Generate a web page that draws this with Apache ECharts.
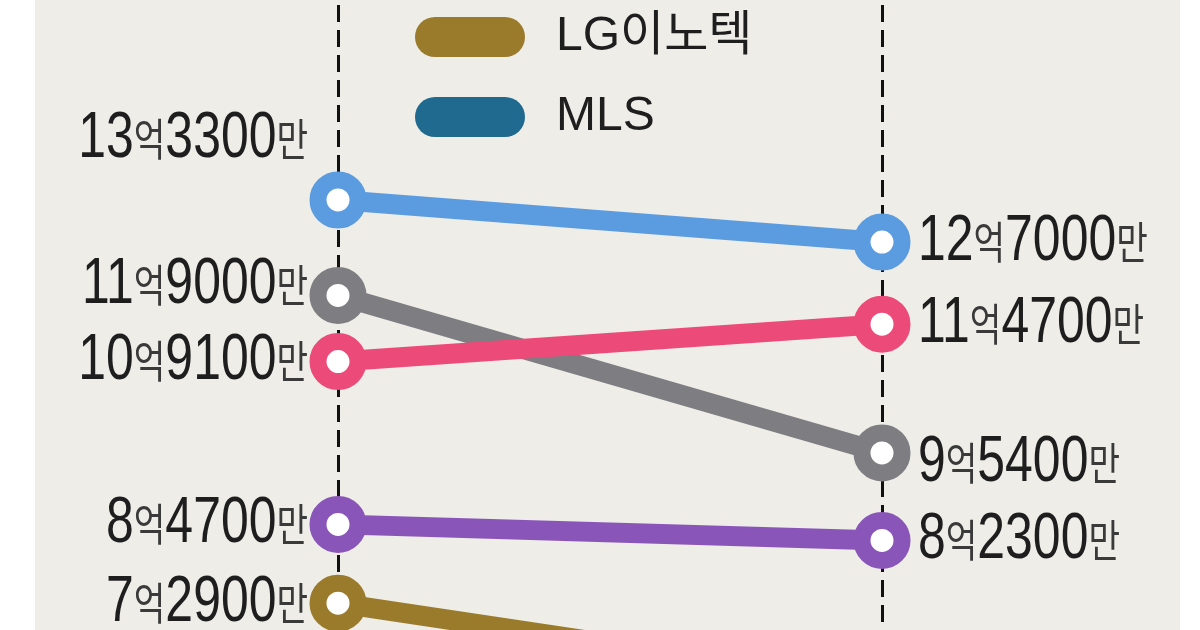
<!DOCTYPE html>
<html>
<head>
<meta charset="utf-8">
<script src="https://cdn.jsdelivr.net/npm/echarts@6/dist/echarts.min.js"></script>
<style>
    html, body { margin: 0; padding: 0; background: #fff; }
    #panel { position: absolute; left: 35px; top: 0; width: 1145px; height: 630px; background: #eeede8; }
    #chart { position: absolute; left: 0; top: 0; width: 1200px; height: 630px; }
</style>
</head>
<body>
<div id="panel"></div>
<div id="chart"></div>
<script>
// 두 시점 (왼쪽/오른쪽 점선)
const periods = ['이전', '이후'];

// 단위: 억원
const blueValues = [13.33, 12.70];
const grayValues = [11.90, 9.54];
const pinkValues = [10.91, 11.47];
const purpleValues = [8.47, 8.23];
const lgInnotekValues = [7.29, 6.07];
const mlsValues = [];

const legendNames = ['LG이노텍', 'MLS'];

const NUM_FONT = "'Liberation Sans', Arial, sans-serif";
const KR_FONT = "'Noto Sans CJK KR', sans-serif";

// 선 정의 (그리는 순서 = 겹침 순서)
const lines = [
    { name: legendNames[0], values: lgInnotekValues, color: '#9a7b2c' },
    { name: legendNames[1], values: mlsValues, color: '#1f6a8e' },
    { name: 'D', values: purpleValues, color: '#8a55b8' },
    { name: 'B', values: grayValues, color: '#7e7e82' },
    { name: 'C', values: pinkValues, color: '#ec4a78' },
    { name: 'A', values: blueValues, color: '#5b9be0' }
];

// 라벨 세로 위치 보정 [왼쪽, 오른쪽]
const labelShift = { A: [-61, 0], B: [-10, 10] };

// 13.33 -> 13억3300만
function fmtWon(v) {
    const man = Math.round(v * 10000);
    const eok = Math.floor(man / 10000);
    const rest = man - eok * 10000;
    return `{n|${eok}}{u|억}{n|${rest}}{u|만}`;
}

const rich = {
    n: { fontFamily: NUM_FONT, fontSize: 64, fill: '#1e1e1e', color: '#1e1e1e' },
    u: { fontFamily: KR_FONT, fontSize: 44, fill: '#3a3a3a', color: '#3a3a3a' }
};

// 라벨용 데이터: [시점 index, 값, 선 index]
const labelData = [];
lines.forEach((l, si) => l.values.forEach((v, i) => labelData.push([i, v, si])));

const chart = echarts.init(document.getElementById('chart'));

const lineSeries = lines.map(l => ({
    name: l.name,
    type: 'line',
    data: l.values,
    symbol: 'circle',
    symbolSize: 40,
    lineStyle: { color: l.color, width: 20 },
    itemStyle: { color: '#fff', borderColor: l.color, borderWidth: 17 },
    emphasis: { disabled: true },
    silent: true,
    z: 2
}));

const labelSeries = {
    type: 'custom',
    silent: true,
    z: 10,
    data: labelData,
    encode: { x: 0, y: 1 },
    renderItem: (params, api) => {
        const xi = api.value(0);
        const v = api.value(1);
        const l = lines[api.value(2)];
        const pt = api.coord([xi, v]);
        const shift = (labelShift[l.name] || [0, 0])[xi];
        const left = xi === 0;
        return {
            type: 'text',
            x: pt[0] + (left ? -30 : 36),
            y: pt[1] + shift,
            scaleX: 0.78,
            style: {
                text: fmtWon(v),
                rich: rich,
                align: left ? 'right' : 'left',
                verticalAlign: 'middle'
            }
        };
    }
};

chart.setOption({
    animation: false,
    backgroundColor: 'transparent',
    grid: { left: 338, right: 318, top: -45, bottom: -126, outerBoundsMode: 'none', containLabel: false },
    legend: {
        orient: 'vertical',
        left: 410,
        top: 8,
        itemWidth: 110,
        itemHeight: 40,
        itemGap: 32,
        icon: 'path://M20,0 H90 A20,20 0 0 1 90,40 H20 A20,20 0 0 1 20,0 Z',
        selectedMode: false,
        data: [
            { name: 'LG이노텍', itemStyle: { color: '#9a7b2c', borderWidth: 0 } },
            { name: 'MLS', itemStyle: { color: '#1f6a8e', borderWidth: 0 } }
        ],
        textStyle: {
            fontFamily: "'Liberation Sans', 'Noto Sans CJK KR', sans-serif",
            fontSize: 48,
            color: '#1e1e1e',
            padding: [0, 0, 0, 26]
        }
    },
    xAxis: {
        type: 'category',
        data: periods,
        boundaryGap: false,
        axisLine: { show: false },
        axisTick: { show: false },
        axisLabel: { show: false },
        splitLine: { show: true, lineStyle: { color: '#111', width: 3, type: [17, 8] } }
    },
    yAxis: {
        type: 'value',
        min: 5,
        max: 17,
        show: false
    },
    series: lineSeries.concat([labelSeries])
});

window.addEventListener('resize', () => chart.resize());
</script>
</body>
</html>
